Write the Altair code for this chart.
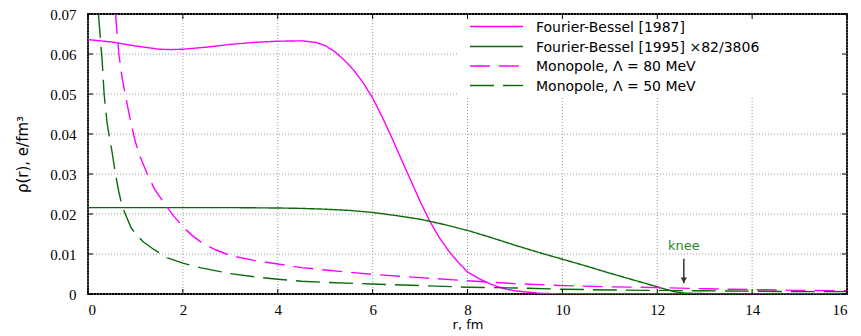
import altair as alt
import pandas as pd

# ---------------- data ----------------
series_names = [
    "Fourier-Bessel [1987]",
    "Fourier-Bessel [1995] ×82/3806",
    "Monopole, Λ = 80 MeV",
    "Monopole, Λ = 50 MeV",
]
series_colors = ["#ff00ff", "#0a6a0a", "#ff00ff", "#0a6a0a"]
series_dashes = [[1, 0], [1, 0], [20, 9], [24, 9]]

fb1987_r = [0, 0.5, 1.0, 1.5, 1.75, 2.0, 2.5, 3.0, 3.5, 4.0, 4.5, 4.8, 5.0, 5.2, 5.4, 5.6,
            5.8, 6.0, 6.2, 6.4, 6.6, 6.8, 7.0, 7.2, 7.4, 7.6, 7.8, 8.0, 8.25, 8.5, 8.75,
            9.0, 9.5, 10, 12, 14, 16]
fb1987_rho = [0.0636, 0.0630, 0.0620, 0.0612, 0.0611, 0.0612, 0.0617, 0.0624, 0.0629,
              0.0632, 0.0633, 0.0629, 0.0621, 0.0606, 0.0585, 0.0560, 0.0528, 0.0490,
              0.0443, 0.0392, 0.0338, 0.0285, 0.0232, 0.0183, 0.0142, 0.0108, 0.0080,
              0.0055, 0.0038, 0.0024, 0.0014, 0.0008, 0.0002, 0.0, 0.0, 0.0, 0.0]

fb1995_r = [0, 1, 2, 3, 4, 4.5, 5, 5.5, 6, 6.5, 7, 7.5, 8, 8.5, 9, 9.5, 10, 10.5, 11,
            11.5, 12, 12.2, 12.4, 12.6, 13, 14, 15, 16]
fb1995_rho = [0.0216, 0.0216, 0.0216, 0.0216, 0.0215, 0.0214, 0.0212, 0.0209, 0.0204,
              0.0196, 0.0187, 0.0174, 0.0159, 0.0141, 0.0122, 0.0104, 0.0087, 0.0070,
              0.0052, 0.0035, 0.0018, 0.0011, 0.0005, 0.0002, 0.0001, 0.0, 0.0, 0.0]

mono80_r = [0.58, 0.65, 0.72, 0.8, 0.9, 1.0, 1.1, 1.25, 1.4, 1.6, 1.8, 2.0, 2.2, 2.4,
            2.7, 3.0, 3.5, 4.0, 4.5, 5, 6, 7, 8, 9, 10, 11, 12, 13, 14, 15, 16]
mono80_rho = [0.070, 0.060, 0.054, 0.049, 0.043, 0.038, 0.0343, 0.0300, 0.0263, 0.0228,
              0.0196, 0.0168, 0.0146, 0.0128, 0.0110, 0.0096, 0.0084, 0.0075, 0.0066,
              0.0060, 0.0049, 0.0041, 0.0033, 0.0026, 0.0021, 0.0018, 0.0016, 0.0013,
              0.0011, 0.0009, 0.0008]

mono50_r = [0.22, 0.26, 0.3, 0.34, 0.4, 0.44, 0.5, 0.58, 0.65, 0.72, 0.8, 0.9, 1.0, 1.17,
            1.38, 1.66, 2.0, 2.36, 3.0, 3.5, 4.0, 4.5, 5, 6, 7, 8, 9, 10, 11, 12, 13, 14,
            15, 16]
mono50_rho = [0.070, 0.064, 0.058, 0.050, 0.043, 0.040, 0.036, 0.030, 0.0255, 0.0219,
              0.0196, 0.0168, 0.0150, 0.0130, 0.0112, 0.0091, 0.0077, 0.0066, 0.0051,
              0.0043, 0.0037, 0.0032, 0.0029, 0.0025, 0.0021, 0.0017, 0.0015, 0.0012,
              0.0010, 0.0009, 0.0008, 0.0007, 0.0006, 0.0006]

x_ticks = [0, 2, 4, 6, 8, 10, 12, 14, 16]
y_ticks = [0, 0.01, 0.02, 0.03, 0.04, 0.05, 0.06, 0.07]

knee_label = ["knee"]
knee_r = [12.56]
knee_text_rho = [0.0119]
knee_arrow_top = [0.0088]
knee_arrow_tip = [0.0027]

# ---------------- layout ----------------
W, H = 759, 280
XMAX, YMAX = 16, 0.07
TICK = 5

xs = alt.Scale(domain=[0, XMAX], nice=False, zero=False)
ys = alt.Scale(domain=[0, YMAX], nice=False, zero=False)
XT = "r, fm"
YT = "ρ(r),  e/fm³"
x_axis = alt.Axis(values=x_ticks, grid=False, ticks=False, domain=False,
                  labelPadding=8, titlePadding=1, format="d", title=XT,
                  titleFontSize=13)
y_axis = alt.Axis(values=y_ticks, grid=False, ticks=False, domain=False,
                  labelPadding=12, titlePadding=19, title=YT, titleFontSize=15,
                  labelExpr="datum.value == 0 ? '0' : format(datum.value, '.2f')")


def X(field):
    return alt.X(field, scale=xs, axis=x_axis, title=XT)


def Y(field):
    return alt.Y(field, scale=ys, axis=y_axis, title=YT)


rows = []
for name, rr, yy in zip(series_names,
                        [fb1987_r, fb1995_r, mono80_r, mono50_r],
                        [fb1987_rho, fb1995_rho, mono80_rho, mono50_rho]):
    for a, b in zip(rr, yy):
        rows.append({"r": a, "rho": b, "series": name})
df = pd.DataFrame(rows)

grid_x = alt.Chart(pd.DataFrame({"r": x_ticks})).mark_rule(
    color="#9a9a9a", strokeDash=[1, 2], strokeWidth=1
).encode(x=X("r:Q"))
grid_y = alt.Chart(pd.DataFrame({"rho": y_ticks})).mark_rule(
    color="#9a9a9a", strokeDash=[1, 2], strokeWidth=1
).encode(y=Y("rho:Q"))

lines = alt.Chart(df).mark_line(clip=True, strokeWidth=1.4).encode(
    x=X("r:Q"),
    y=Y("rho:Q"),
    color=alt.Color("series:N", scale=alt.Scale(domain=series_names, range=series_colors),
                    legend=None),
    strokeDash=alt.StrokeDash("series:N",
                              scale=alt.Scale(domain=series_names, range=series_dashes),
                              legend=None),
    order="r:Q",
)

# knee annotation
knee_df = pd.DataFrame({"r": knee_r, "t": knee_label, "ty": knee_text_rho,
                        "a1": knee_arrow_top, "a2": knee_arrow_tip})
knee_text = alt.Chart(knee_df).mark_text(
    font="DejaVu Sans", fontSize=13, color="#2a8a2a", baseline="middle", align="center"
).encode(x=X("r:Q"), y=Y("ty:Q"), text="t:N")
knee_rule = alt.Chart(knee_df).mark_rule(color="#333333", strokeWidth=1.5).encode(
    x=X("r:Q"), y=Y("a1:Q"), y2="a2:Q")
knee_head = alt.Chart(knee_df).mark_point(
    shape="triangle-down", filled=True, color="#333333", size=40, opacity=1, yOffset=-3
).encode(x=X("r:Q"), y=Y("a2:Q"))

# legend (manual, gnuplot style, opaque box in the top-right corner)
one = pd.DataFrame({"k": [0]})
legend_layers = [
    alt.Chart(one).mark_rect(fill="white").encode(
        x=alt.value(370), x2=alt.value(W - 3), y=alt.value(2), y2=alt.value(83))
]
row_y = [12.5, 32.5, 52, 71.5]
for name, col, dash, yy in zip(series_names, series_colors, series_dashes, row_y):
    legend_layers.append(
        alt.Chart(one).mark_rule(color=col, strokeDash=dash, strokeWidth=1.4).encode(
            x=alt.value(382), x2=alt.value(435), y=alt.value(yy)))
    legend_layers.append(
        alt.Chart(one).mark_text(text=name, align="left", baseline="middle",
                                 font="DejaVu Sans", fontSize=14, color="black").encode(
            x=alt.value(448), y=alt.value(yy + 1)))

# inward ticks on all four sides
xt = pd.DataFrame({"r": x_ticks})
yt = pd.DataFrame({"rho": y_ticks})
tick_layers = [
    alt.Chart(xt).mark_rule(color="black", strokeWidth=1).encode(
        x=X("r:Q"), y=alt.value(H), y2=alt.value(H - TICK)),
    alt.Chart(xt).mark_rule(color="black", strokeWidth=1).encode(
        x=X("r:Q"), y=alt.value(0), y2=alt.value(TICK)),
    alt.Chart(yt).mark_rule(color="black", strokeWidth=1).encode(
        y=Y("rho:Q"), x=alt.value(0), x2=alt.value(TICK)),
    alt.Chart(yt).mark_rule(color="black", strokeWidth=1).encode(
        y=Y("rho:Q"), x=alt.value(W), x2=alt.value(W - TICK)),
]

chart = alt.layer(
    grid_x, grid_y, lines, knee_text, knee_rule, knee_head,
    *legend_layers, *tick_layers
).properties(
    width=W, height=H,
    autosize=alt.AutoSizeParams(type="none"),
    padding={"left": 80, "top": 6, "right": 6, "bottom": 40},
).configure_view(
    stroke="black", strokeWidth=1.8
).configure_axis(
    labelFont="Liberation Serif", labelFontSize=15, labelColor="black",
    titleFont="DejaVu Sans", titleFontWeight="normal", titleColor="black",
)

chart.save("out.html", embed_options={"renderer": "svg", "actions": False})
